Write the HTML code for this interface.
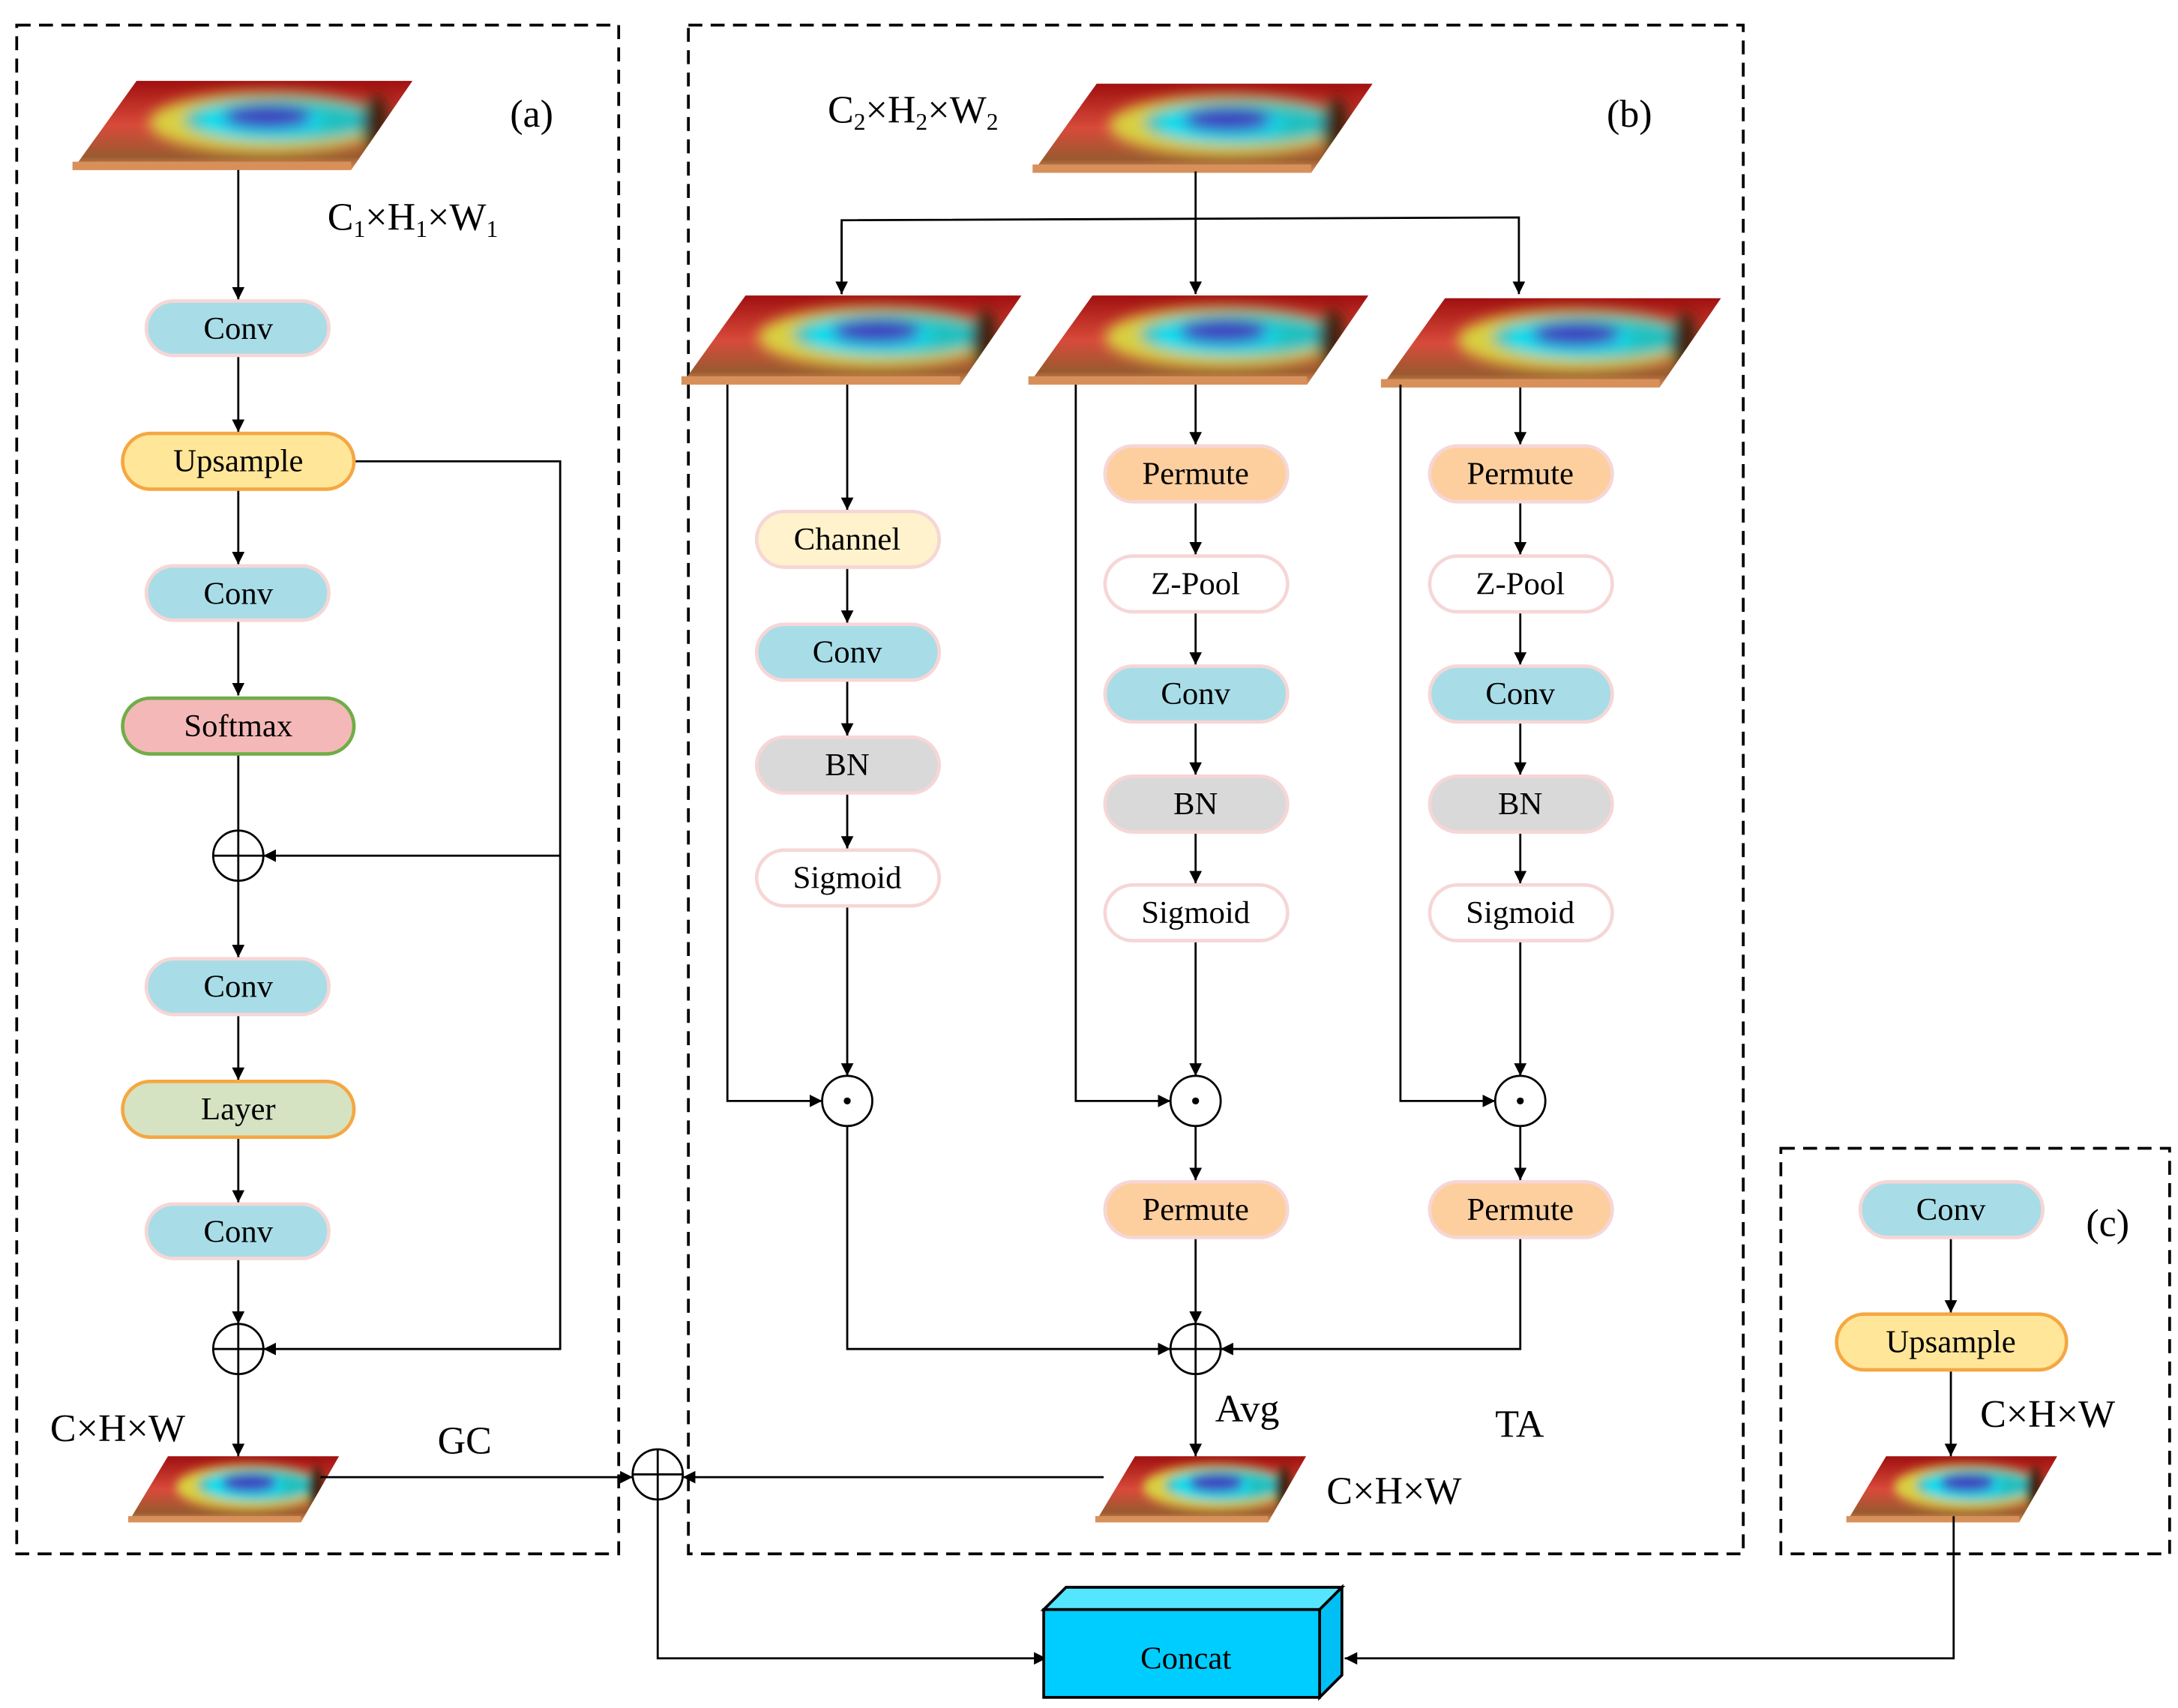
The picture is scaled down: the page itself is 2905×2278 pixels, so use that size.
<!DOCTYPE html>
<html><head><meta charset="utf-8"><style>
html,body{margin:0;padding:0;background:#fff;}
svg{display:block;}
text{font-family:"Liberation Serif",serif;fill:#000;}
.p{font-size:23px;text-anchor:middle;dominant-baseline:central;}
.l{font-size:28px;}
</style></head><body>
<svg width="2905" height="2278" viewBox="0 0 1563 1225.6" xmlns="http://www.w3.org/2000/svg" font-family="Liberation Serif, serif">
<defs>
<marker id="ar" viewBox="0 0 10 10" refX="10" refY="5" markerWidth="9" markerHeight="9" markerUnits="userSpaceOnUse" orient="auto"><path d="M0,0L10,5L0,10z" fill="#000"/></marker>
<linearGradient id="rg" x1="0" y1="0" x2="0" y2="1">
<stop offset="0" stop-color="#a01010"/><stop offset="0.5" stop-color="#d84a3a"/><stop offset="0.85" stop-color="#9a5a30"/><stop offset="1" stop-color="#d8905a"/></linearGradient>
<filter id="bl" x="-30%" y="-50%" width="160%" height="200%"><feGaussianBlur stdDeviation="5"/></filter>
<clipPath id="cp"><polygon points="46,0 244,0 200,64 0,64"/></clipPath>
<g id="fm">
<polygon points="46,0 244,0 200,64 0,64" fill="url(#rg)"/>
<g clip-path="url(#cp)" filter="url(#bl)">
<ellipse cx="140" cy="30" rx="85" ry="22" fill="#d8d040"/>
<ellipse cx="150" cy="28" rx="70" ry="16" fill="#20c0c0"/>
<ellipse cx="135" cy="29" rx="45" ry="12" fill="#00e0f0"/>
<ellipse cx="140" cy="26" rx="32" ry="9" fill="#4040c0"/>
<ellipse cx="218" cy="32" rx="10" ry="22" fill="#402010"/>
</g>
<rect x="0" y="58" width="200" height="6" fill="#d8905a"/>
</g>
</defs>
<rect width="1563" height="1226" fill="#fff"/>
<g fill="none" stroke="#000" stroke-width="2" stroke-dasharray="10,6">
<rect x="12" y="18" width="432" height="1097"/>
<rect x="494" y="18" width="757" height="1097"/>
<rect x="1278" y="824" width="279" height="291"/>
</g>
<use href="#fm" transform="translate(52,58)"/>
<use href="#fm" transform="translate(741,60)"/>
<use href="#fm" transform="translate(489,212)"/>
<use href="#fm" transform="translate(738,212)"/>
<use href="#fm" transform="translate(991,214)"/>
<use href="#fm" transform="translate(92,1045) scale(0.62,0.74)"/>
<use href="#fm" transform="translate(786,1045) scale(0.62,0.74)"/>
<use href="#fm" transform="translate(1325,1045) scale(0.62,0.74)"/>
<g fill="none" stroke="#000" stroke-width="1.5">
<line x1="171" y1="122" x2="171" y2="215" marker-end="url(#ar)"/>
<line x1="171" y1="256" x2="171" y2="310" marker-end="url(#ar)"/>
<line x1="171" y1="352" x2="171" y2="405" marker-end="url(#ar)"/>
<line x1="171" y1="446" x2="171" y2="499" marker-end="url(#ar)"/>
<line x1="171" y1="542" x2="171" y2="596"/>
<line x1="171" y1="632" x2="171" y2="687" marker-end="url(#ar)"/>
<line x1="171" y1="729" x2="171" y2="775" marker-end="url(#ar)"/>
<line x1="171" y1="817" x2="171" y2="863" marker-end="url(#ar)"/>
<line x1="171" y1="904" x2="171" y2="950" marker-end="url(#ar)"/>
<line x1="171" y1="986" x2="171" y2="1045" marker-end="url(#ar)"/>
<polyline points="254,331 402,331 402,968 189,968" marker-end="url(#ar)"/>
<line x1="402" y1="614" x2="189" y2="614" marker-end="url(#ar)"/>
<line x1="230" y1="1060" x2="454" y2="1060" marker-end="url(#ar)"/>
<line x1="792" y1="1060" x2="490" y2="1060" marker-end="url(#ar)"/>
<polyline points="472,1076 472,1190 751,1190" marker-end="url(#ar)"/>
<polyline points="1402,1088 1402,1190 965,1190" marker-end="url(#ar)"/>
<line x1="858" y1="123" x2="858" y2="211" marker-end="url(#ar)"/>
<polyline points="604,211 604,158 1090,156 1090,211" marker-end="url(#ar)"/>
<line x1="604" y1="160" x2="604" y2="211" marker-end="url(#ar)"/>
<line x1="608" y1="276" x2="608" y2="366" marker-end="url(#ar)"/>
<line x1="608" y1="408" x2="608" y2="447" marker-end="url(#ar)"/>
<line x1="608" y1="489" x2="608" y2="528" marker-end="url(#ar)"/>
<line x1="608" y1="570" x2="608" y2="609" marker-end="url(#ar)"/>
<line x1="608" y1="651" x2="608" y2="772" marker-end="url(#ar)"/>
<polyline points="522,276 522,790 590,790" marker-end="url(#ar)"/>
<polyline points="608,808 608,968 840,968" marker-end="url(#ar)"/>
<line x1="858" y1="276" x2="858" y2="319" marker-end="url(#ar)"/>
<line x1="858" y1="361" x2="858" y2="398" marker-end="url(#ar)"/>
<line x1="858" y1="440" x2="858" y2="477" marker-end="url(#ar)"/>
<line x1="858" y1="519" x2="858" y2="556" marker-end="url(#ar)"/>
<line x1="858" y1="598" x2="858" y2="634" marker-end="url(#ar)"/>
<line x1="858" y1="676" x2="858" y2="772" marker-end="url(#ar)"/>
<line x1="858" y1="808" x2="858" y2="847" marker-end="url(#ar)"/>
<line x1="858" y1="889" x2="858" y2="950" marker-end="url(#ar)"/>
<line x1="858" y1="986" x2="858" y2="1045" marker-end="url(#ar)"/>
<polyline points="772,276 772,790 840,790" marker-end="url(#ar)"/>
<line x1="1091" y1="278" x2="1091" y2="319" marker-end="url(#ar)"/>
<line x1="1091" y1="361" x2="1091" y2="398" marker-end="url(#ar)"/>
<line x1="1091" y1="440" x2="1091" y2="477" marker-end="url(#ar)"/>
<line x1="1091" y1="519" x2="1091" y2="556" marker-end="url(#ar)"/>
<line x1="1091" y1="598" x2="1091" y2="634" marker-end="url(#ar)"/>
<line x1="1091" y1="676" x2="1091" y2="772" marker-end="url(#ar)"/>
<line x1="1091" y1="808" x2="1091" y2="847" marker-end="url(#ar)"/>
<polyline points="1091,889 1091,968 876,968" marker-end="url(#ar)"/>
<polyline points="1005,276 1005,790 1073,790" marker-end="url(#ar)"/>
<line x1="1400" y1="889" x2="1400" y2="942" marker-end="url(#ar)"/>
<line x1="1400" y1="984" x2="1400" y2="1045" marker-end="url(#ar)"/>
</g>
<g fill="#fff" stroke="#000" stroke-width="1.5">
<circle cx="171" cy="614" r="18"/><circle cx="171" cy="968" r="18"/>
<circle cx="472" cy="1058" r="18"/><circle cx="858" cy="968" r="18"/>
<circle cx="608" cy="790" r="18"/><circle cx="858" cy="790" r="18"/><circle cx="1091" cy="790" r="18"/>
</g>
<g stroke="#000" stroke-width="1.5">
<path d="M153,614H189M171,596V632"/><path d="M153,968H189M171,950V986"/>
<path d="M454,1058H490M472,1040V1076"/><path d="M840,968H876M858,950V986"/>
</g>
<circle cx="608" cy="790" r="2.5"/><circle cx="858" cy="790" r="2.5"/><circle cx="1091" cy="790" r="2.5"/>
<g stroke-width="2.5">
<rect x="105" y="216" width="131" height="39" rx="19.5" fill="#a8dde8" stroke="#f6d6d6"/>
<rect x="88" y="311" width="166" height="40" rx="20" fill="#ffe699" stroke="#f5a742"/>
<rect x="105" y="406" width="131" height="39" rx="19.5" fill="#a8dde8" stroke="#f6d6d6"/>
<rect x="88" y="501" width="166" height="40" rx="20" fill="#f4b8b8" stroke="#70ad47"/>
<rect x="105" y="688" width="131" height="40" rx="20" fill="#a8dde8" stroke="#f6d6d6"/>
<rect x="88" y="776" width="166" height="40" rx="20" fill="#d5e3c3" stroke="#f5a742"/>
<rect x="105" y="864" width="131" height="39" rx="19.5" fill="#a8dde8" stroke="#f6d6d6"/>
<rect x="543" y="367" width="131" height="40" rx="20" fill="#fff2cc" stroke="#f6d6d6"/>
<rect x="543" y="448" width="131" height="40" rx="20" fill="#a8dde8" stroke="#f6d6d6"/>
<rect x="543" y="529" width="131" height="40" rx="20" fill="#d9d9d9" stroke="#f6d6d6"/>
<rect x="543" y="610" width="131" height="40" rx="20" fill="#fff" stroke="#f6d6d6"/>
<rect x="793" y="320" width="131" height="40" rx="20" fill="#fdcf9e" stroke="#f6d6d6"/>
<rect x="793" y="399" width="131" height="40" rx="20" fill="#fff" stroke="#f6d6d6"/>
<rect x="793" y="478" width="131" height="40" rx="20" fill="#a8dde8" stroke="#f6d6d6"/>
<rect x="793" y="557" width="131" height="40" rx="20" fill="#d9d9d9" stroke="#f6d6d6"/>
<rect x="793" y="635" width="131" height="40" rx="20" fill="#fff" stroke="#f6d6d6"/>
<rect x="793" y="848" width="131" height="40" rx="20" fill="#fdcf9e" stroke="#f6d6d6"/>
<rect x="1026" y="320" width="131" height="40" rx="20" fill="#fdcf9e" stroke="#f6d6d6"/>
<rect x="1026" y="399" width="131" height="40" rx="20" fill="#fff" stroke="#f6d6d6"/>
<rect x="1026" y="478" width="131" height="40" rx="20" fill="#a8dde8" stroke="#f6d6d6"/>
<rect x="1026" y="557" width="131" height="40" rx="20" fill="#d9d9d9" stroke="#f6d6d6"/>
<rect x="1026" y="635" width="131" height="40" rx="20" fill="#fff" stroke="#f6d6d6"/>
<rect x="1026" y="848" width="131" height="40" rx="20" fill="#fdcf9e" stroke="#f6d6d6"/>
<rect x="1335" y="848" width="131" height="40" rx="20" fill="#a8dde8" stroke="#f6d6d6"/>
<rect x="1318" y="943" width="165" height="40" rx="20" fill="#ffe699" stroke="#f5a742"/>
</g>
<g font-family="Liberation Serif, serif">
<text class="p" x="171" y="236">Conv</text>
<text class="p" x="171" y="331">Upsample</text>
<text class="p" x="171" y="426">Conv</text>
<text class="p" x="171" y="521">Softmax</text>
<text class="p" x="171" y="708">Conv</text>
<text class="p" x="171" y="796">Layer</text>
<text class="p" x="171" y="884">Conv</text>
<text class="p" x="608" y="387">Channel</text>
<text class="p" x="608" y="468">Conv</text>
<text class="p" x="608" y="549">BN</text>
<text class="p" x="608" y="630">Sigmoid</text>
<text class="p" x="858" y="340">Permute</text>
<text class="p" x="858" y="419">Z-Pool</text>
<text class="p" x="858" y="498">Conv</text>
<text class="p" x="858" y="577">BN</text>
<text class="p" x="858" y="655">Sigmoid</text>
<text class="p" x="858" y="868">Permute</text>
<text class="p" x="1091" y="340">Permute</text>
<text class="p" x="1091" y="419">Z-Pool</text>
<text class="p" x="1091" y="498">Conv</text>
<text class="p" x="1091" y="577">BN</text>
<text class="p" x="1091" y="655">Sigmoid</text>
<text class="p" x="1091" y="868">Permute</text>
<text class="p" x="1400" y="868">Conv</text>
<text class="p" x="1400" y="963">Upsample</text>
</g>
<g stroke="#000" stroke-width="2">
<polygon points="749,1155 765,1139 963,1139 947,1155" fill="#55e6ff"/>
<polygon points="947,1155 963,1139 963,1202 947,1218" fill="#00bff5"/>
<rect x="749" y="1155" width="198" height="63" fill="#00cdff"/>
</g>
<text class="p" x="851" y="1190">Concat</text>
<text class="l" x="235" y="165">C<tspan font-size="17" dy="5">1</tspan><tspan dy="-5">×H</tspan><tspan font-size="17" dy="5">1</tspan><tspan dy="-5">×W</tspan><tspan font-size="17" dy="5">1</tspan></text>
<text class="l" x="594" y="88">C<tspan font-size="17" dy="5">2</tspan><tspan dy="-5">×H</tspan><tspan font-size="17" dy="5">2</tspan><tspan dy="-5">×W</tspan><tspan font-size="17" dy="5">2</tspan></text>
<text class="l" x="366" y="91" font-size="30">(a)</text>
<text class="l" x="1153" y="91" font-size="30">(b)</text>
<text class="l" x="1497" y="887" font-size="30">(c)</text>
<text class="l" x="36" y="1034">C×H×W</text>
<text class="l" x="314" y="1043" font-size="32">GC</text>
<text class="l" x="872" y="1020" font-size="22">Avg</text>
<text class="l" x="952" y="1079">C×H×W</text>
<text class="l" x="1073" y="1031" font-size="34">TA</text>
<text class="l" x="1421" y="1024">C×H×W</text>
</svg>
</body></html>
